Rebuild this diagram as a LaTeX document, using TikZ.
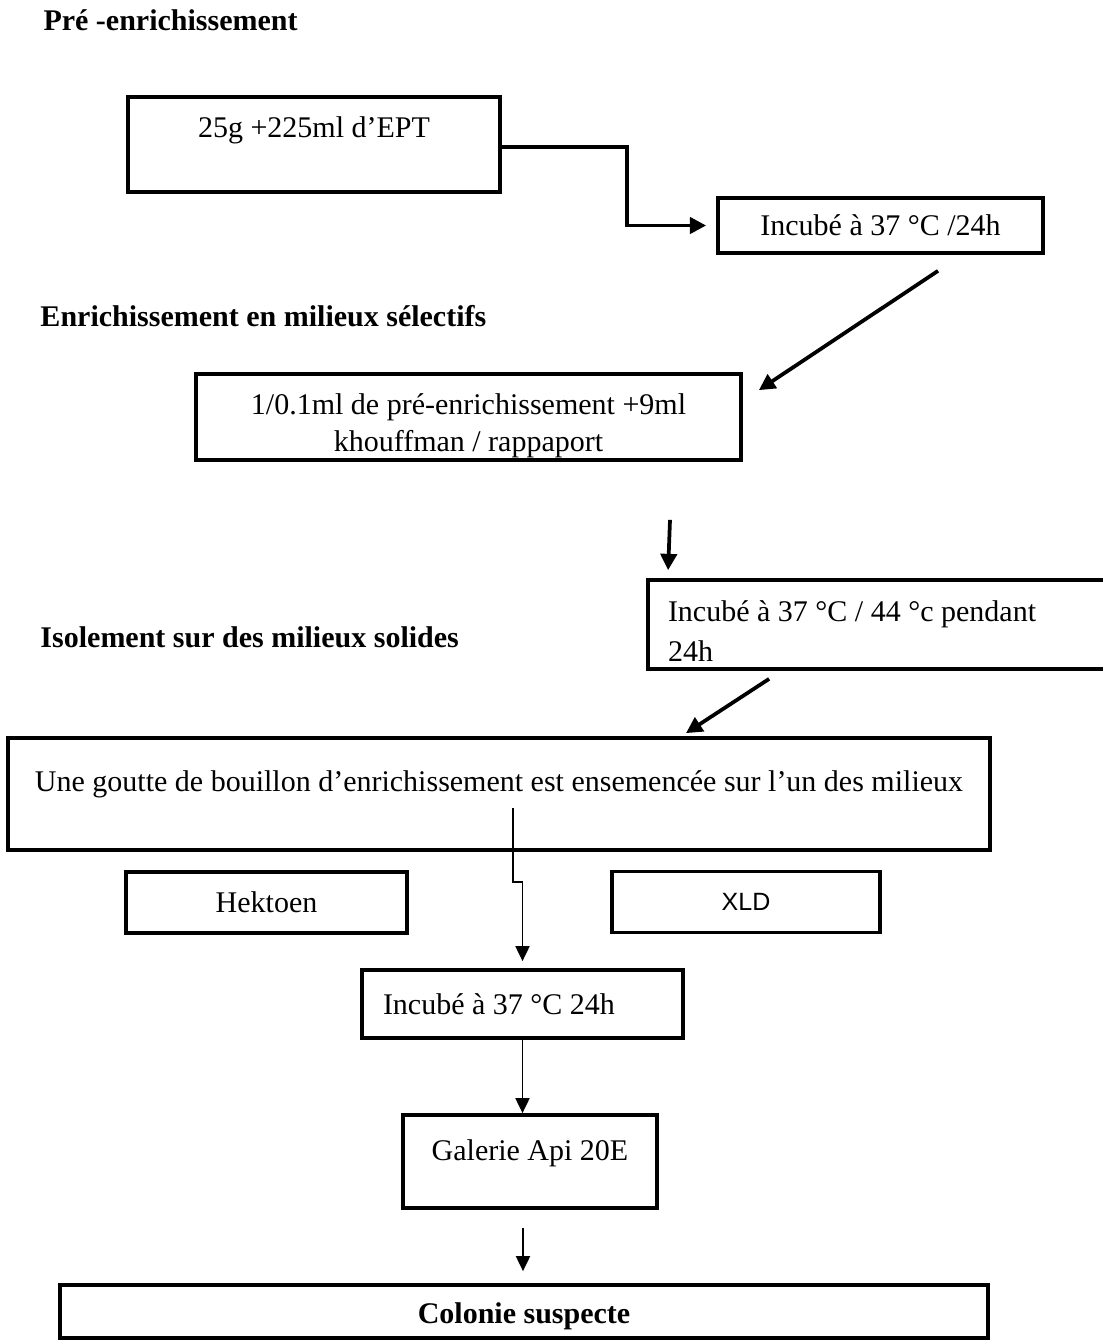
\documentclass[tikz,border=0pt]{standalone}
\usepackage{fontspec}
\setmainfont{Liberation Serif}
\newfontfamily\arialfont{Liberation Sans}
\usetikzlibrary{arrows.meta}
\newcommand{\upx}{0.4pt}

\begin{document}
\begin{tikzpicture}[x=\upx,y=-\upx,font=\fontsize{12}{14.8}\selectfont]
		\tikzstyle{every node}+=[inner sep=0pt]
		\tikzstyle{boite}=[draw=black, line width=1.5pt, align=center]
		\tikzstyle{titre}=[anchor=west, font=\fontsize{12}{14.8}\selectfont\bfseries]
		\tikzstyle{grosse}=[line width=1.5pt, -{Triangle[length=6.5pt,width=6.5pt]}]
		\tikzstyle{fine}=[line width=0.75pt, -{Triangle[length=6pt,width=5.6pt]}]
		\useasboundingbox (0,0) rectangle (1102,1340);
		% titres
		\node [titre] (t1) at (43,20) {Pré -enrichissement};
		\node [titre] (t2) at (40,316) {Enrichissement en milieux sélectifs};
		\node [titre] (t3) at (40,637) {Isolement sur des milieux solides};
		% etapes
		\node [boite, minimum width=372*\upx, minimum height=95*\upx, text height=8pt, text depth=13.4pt] (pre) at (314,144.5) {25g +225ml d’EPT};
		\node [boite, minimum width=325*\upx, minimum height=55*\upx] (incub1) at (880.5,225.5) {Incubé à 37 °C /24h};
		\node [boite, minimum width=545*\upx, minimum height=86*\upx, text height=29.8pt] (enrich) at (468.5,417) {1/0.1ml de pré-enrichissement +9ml\\khouffman / rappaport};
		\node [boite, align=flush left, text width=168pt, inner xsep=8pt, minimum height=89*\upx, text height=13.8pt] (incub2) at (878,624.5) {Incubé à 37 °C / 44 °c pendant\\[1.2pt]24h};
		\node [boite, minimum width=982*\upx, minimum height=112*\upx, text height=8pt, text depth=9.8pt] (goutte) at (499,794) {Une goutte de bouillon d’enrichissement est ensemencée sur l’un des milieux};
		\node [boite, minimum width=281*\upx, minimum height=61*\upx] (hek) at (266.5,902.5) {Hektoen};
		\node [boite, minimum width=268*\upx, minimum height=61*\upx, font=\arialfont\fontsize{10}{12}\selectfont] (xld) at (746,902) {XLD};
		\node [boite, align=flush left, text width=111.6pt, inner xsep=8.4pt, minimum height=68*\upx] (incub3) at (522.5,1004) {Incubé à 37 °C 24h};
		\node [boite, minimum width=254*\upx, minimum height=93*\upx, text height=8pt, text depth=9pt] (galerie) at (530,1161.5) {Galerie Api 20E};
		\node [boite, minimum width=928*\upx, minimum height=53*\upx, text height=12pt, text depth=2.6pt, font=\fontsize{12}{14.8}\selectfont\bfseries] (colonie) at (524,1311.5) {Colonie suspecte};
		% fleches
		\draw [grosse, shorten >=4pt] ([yshift=-1pt]pre.east) -- ++(125,0) |- (incub1.west);
		\draw [grosse] ([shift={(57.5,16)}]incub1.south) -- ([shift={(16,18)}]enrich.north east);
		\draw [grosse] ([shift={(201.5,58)}]enrich.south) -- ([shift={(22,-8)}]incub2.north west);
		\draw [grosse] ([shift={(123,8)}]incub2.south west) -- ([shift={(187,-3)}]goutte.north);
		\draw [fine, shorten >=2.8pt] ([shift={(14,14)}]goutte.center) |- ([shift={(0,-86)}]incub3.north) -- (incub3.north);
		\draw [fine] (incub3.south) -- (incub3.south |- galerie.north);
		\draw [fine] ([shift={(-7,18)}]galerie.south) -- ([shift={(-1,-12)}]colonie.north);
	\end{tikzpicture}
\end{document}
